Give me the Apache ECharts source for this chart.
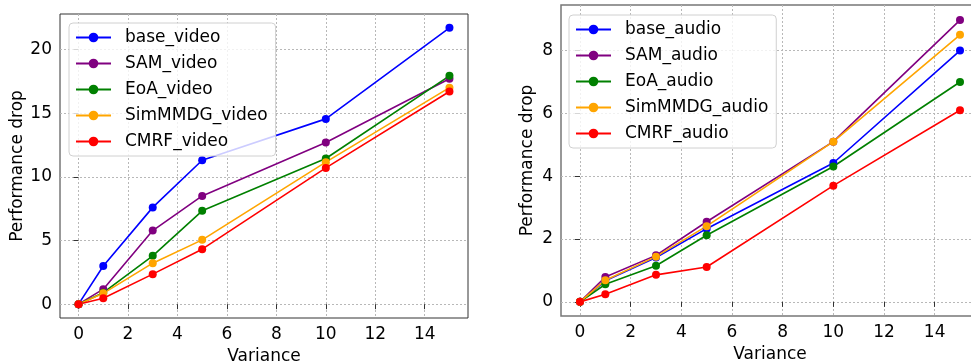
<!DOCTYPE html>
<html><head><meta charset="utf-8">
<script src="https://cdn.jsdelivr.net/npm/echarts@6/dist/echarts.min.js"></script>
<style>html,body{margin:0;padding:0;background:#fff}#c{width:971px;height:362px}</style>
</head><body><div id="c"></div>
<script>
const variance = [0, 1, 3, 5, 10, 15];
const xTicks = [0, 2, 4, 6, 8, 10, 12, 14];
const yTicksVideo = [0, 5, 10, 15, 20];
const yTicksAudio = [0, 2, 4, 6, 8];

const videoNames = ['base_video', 'SAM_video', 'EoA_video', 'SimMMDG_video', 'CMRF_video'];
const base_video    = [0, 3.0, 7.6, 11.3, 14.55, 21.7];
const SAM_video     = [0, 1.18, 5.78, 8.5, 12.7, 17.7];
const EoA_video     = [0, 0.9, 3.8, 7.33, 11.44, 17.93];
const SimMMDG_video = [0, 0.85, 3.22, 5.05, 11.15, 17.0];
const CMRF_video    = [0, 0.47, 2.36, 4.32, 10.7, 16.7];

const audioNames = ['base_audio', 'SAM_audio', 'EoA_audio', 'SimMMDG_audio', 'CMRF_audio'];
const base_audio    = [0, 0.67, 1.41, 2.33, 4.42, 8.0];
const SAM_audio     = [0, 0.79, 1.48, 2.55, 5.1, 8.97];
const EoA_audio     = [0, 0.56, 1.15, 2.12, 4.31, 7.0];
const SimMMDG_audio = [0, 0.69, 1.44, 2.41, 5.1, 8.5];
const CMRF_audio    = [0, 0.24, 0.86, 1.11, 3.7, 6.1];

const colors = ['#0000ff', '#800080', '#008000', '#ffa500', '#ff0000'];
const videoData = [base_video, SAM_video, EoA_video, SimMMDG_video, CMRF_video];
const audioData = [base_audio, SAM_audio, EoA_audio, SimMMDG_audio, CMRF_audio];

const FONT = 'DejaVu Sans';
const FS = 17;

function xAxis(gi, frame) {
  return {
    type: 'value', gridIndex: gi, min: -0.75, max: 15.75,
    name: 'Variance', nameLocation: 'middle', nameGap: 26,
    nameTextStyle: {fontFamily: FONT, fontSize: FS, color: '#000'},
    axisLine: {show: false},
    axisTick: {show: true, length: 5, customValues: xTicks, lineStyle: {color: frame, width: 1}},
    axisLabel: {customValues: xTicks, margin: 8, fontFamily: FONT, fontSize: FS, color: '#000'},
    splitLine: {show: true, lineStyle: {color: '#b8b8b8', type: [2, 2], width: 1}}
  };
}
function yAxis(gi, ticks, min, max, frame, gap) {
  return {
    type: 'value', gridIndex: gi, min: min, max: max,
    name: 'Performance drop', nameLocation: 'middle', nameGap: gap, nameRotate: 90,
    nameTextStyle: {fontFamily: FONT, fontSize: FS, color: '#000'},
    axisLine: {show: false},
    axisTick: {show: true, length: 5, customValues: ticks, lineStyle: {color: frame, width: 1}},
    axisLabel: {customValues: ticks, margin: 8, fontFamily: FONT, fontSize: FS, color: '#000'},
    splitLine: {show: true, lineStyle: {color: '#b8b8b8', type: [2, 2], width: 1}}
  };
}
function legend(names, left, top) {
  return {
    data: names, left: left, top: top, orient: 'vertical',
    itemWidth: 35, itemHeight: 12, itemGap: 9,
    padding: [6, 8, 6, 6],
    backgroundColor: 'rgba(255,255,255,0.8)', borderColor: '#d0d0d0', borderWidth: 1, borderRadius: 4,
    textStyle: {fontFamily: FONT, fontSize: FS, color: '#000', padding: [0, 0, 0, 9]}
  };
}
const series = [];
videoNames.forEach((n, i) => series.push({
  name: n, type: 'line', xAxisIndex: 0, yAxisIndex: 0,
  data: variance.map((v, k) => [v, videoData[i][k]]),
  symbol: 'circle', symbolSize: 8, color: colors[i],
  lineStyle: {width: 1.6}, animation: false
}));
audioNames.forEach((n, i) => series.push({
  name: n, type: 'line', xAxisIndex: 1, yAxisIndex: 1,
  data: variance.map((v, k) => [v, audioData[i][k]]),
  symbol: 'circle', symbolSize: 8, color: colors[i],
  lineStyle: {width: 1.6}, animation: false
}));

const chart = echarts.init(document.getElementById('c'));
chart.setOption({
  animation: false,
  grid: [
    {left: 60, top: 14, width: 408, height: 304, outerBoundsMode: 'none', containLabel: false, show: true, borderColor: '#333', borderWidth: 1, backgroundColor: 'transparent'},
    {left: 561, top: 5, width: 418, height: 311, outerBoundsMode: 'none', containLabel: false, show: true, borderColor: '#777', borderWidth: 1.5, backgroundColor: 'transparent'}
  ],
  xAxis: [xAxis(0, '#333'), xAxis(1, '#333')],
  yAxis: [yAxis(0, yTicksVideo, -1.085, 22.785, '#333', 34), yAxis(1, yTicksAudio, -0.45, 9.45, '#333', 25)],
  legend: [legend(videoNames, 69, 23), legend(audioNames, 569, 15)],
  series: series
});
</script></body></html>
